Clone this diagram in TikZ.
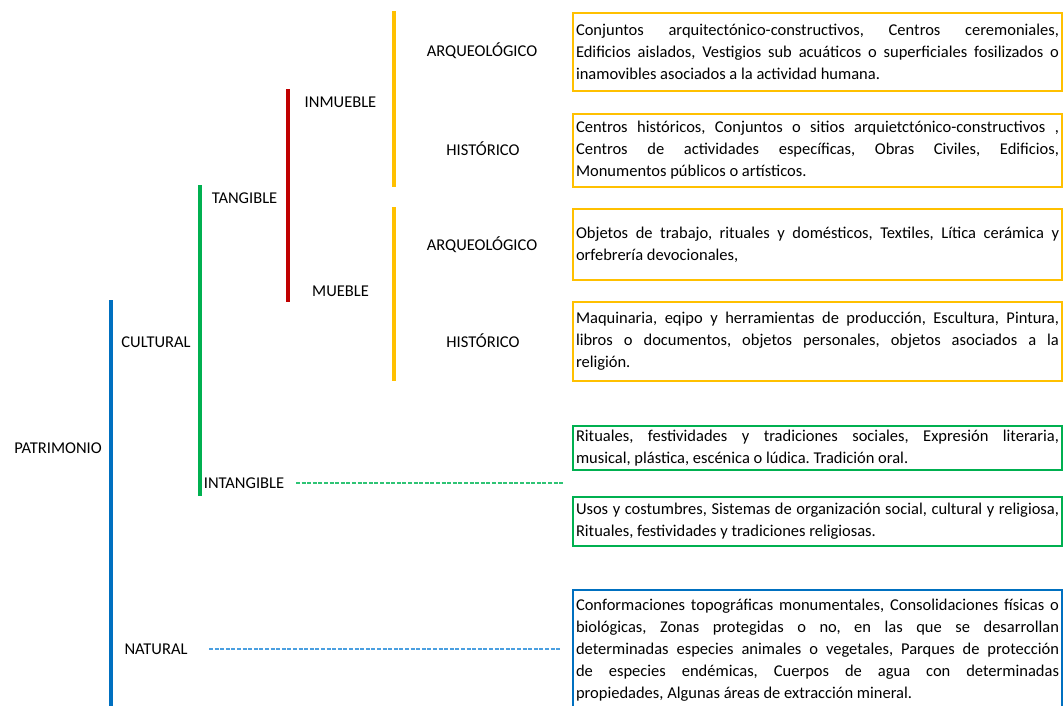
\documentclass[tikz,border=0pt]{standalone}
\usepackage{fontspec}
\setmainfont{Carlito}
\frenchspacing
\definecolor{cyel}{HTML}{FFC000}
\definecolor{cgrn}{HTML}{00B050}
\definecolor{cred}{HTML}{C00000}
\definecolor{cblu}{HTML}{0070C0}
\definecolor{cgrnd}{HTML}{2EC475}
\definecolor{cblud}{HTML}{4A9FE0}
\newlength\boxw \setlength\boxw{483pt}
\newcommand\jline[1]{\makebox[\boxw][s]{\spaceskip=0pt\relax\xspaceskip=0pt\relax #1}}
\begin{document}
\begin{tikzpicture}[x=1pt,y=-1pt,
  lbl/.style={inner sep=0pt, anchor=base, font=\fontsize{16.5}{22}\selectfont},
  desc/.style={draw, line width=2pt, anchor=north west, text width=\boxw,
    inner xsep=3pt, inner ysep=0pt, align=justify, font=\fontsize{16.5}{22}\selectfont},
  bar/.style={line width=4pt},
  dsh/.style={line width=1.3pt, dash pattern=on 4pt off 1.6pt}]
\useasboundingbox (0,0) rectangle (1063,705);
% labels
\node[lbl] (patr) at (58,453) {PATRIMONIO};
\node[lbl] (cult) at (156,347) {CULTURAL};
\node[lbl] (nat) at (156,654) {NATURAL};
\node[lbl] (tang) at (244.5,203) {TANGIBLE};
\node[lbl] (intang) at (244,488) {INTANGIBLE};
\node[lbl] (inm) at (340.5,107) {INMUEBLE};
\node[lbl] (mue) at (340.5,296) {MUEBLE};
\node[lbl] (arq1) at (482,56) {ARQUEOLÓGICO};
\node[lbl] (his1) at (483,155) {HISTÓRICO};
\node[lbl] (arq2) at (482,250) {ARQUEOLÓGICO};
\node[lbl] (his2) at (483,347) {HISTÓRICO};
% bars
\coordinate (b1t) at (111,300); \coordinate (b1b) at (111,712);
\coordinate (g1t) at (200,185); \coordinate (g1b) at (200,496);
\coordinate (r1t) at (288,89);  \coordinate (r1b) at (288,302);
\coordinate (y1t) at (394,11);  \coordinate (y1b) at (394,187);
\coordinate (y2t) at (394,207); \coordinate (y2b) at (394,381);
\draw[bar,cblu] (b1t) -- (b1b);
\draw[bar,cgrn] (g1t) -- (g1b);
\draw[bar,cred] (r1t) -- (r1b);
\draw[bar,cyel] (y1t) -- (y1b);
\draw[bar,cyel] (y2t) -- (y2b);
% boxes
\node[desc,cyel,minimum height=78pt] (d1) at (572,12) {\color{black}%
\jline{Conjuntos arquitectónico-constructivos, Centros ceremoniales,}\\
\jline{Edificios aislados, Vestigios sub acuáticos o superficiales fosilizados o}\\
inamovibles asociados a la actividad humana.};
\node[desc,cyel,minimum height=73pt] (d2) at (572,113) {\color{black}%
\jline{Centros históricos, Conjuntos o sitios arquietctónico-constructivos ,}\\
\jline{Centros de actividades específicas, Obras Civiles, Edificios,}\\
Monumentos públicos o artísticos.};
\node[desc,cyel,minimum height=71pt] (d3) at (572,208) {\color{black}%
\jline{Objetos de trabajo, rituales y domésticos, Textiles, Lítica cerámica y}\\
orfebrería devocionales,};
\node[desc,cyel,minimum height=79pt] (d4) at (572,301) {\color{black}%
\jline{Maquinaria, eqipo y herramientas de producción, Escultura, Pintura,}\\
\jline{libros o documentos, objetos personales, objetos asociados a la}\\
religión.};
\node[desc,cgrn,minimum height=44pt] (d5) at (572,425) {\color{black}%
\jline{Rituales, festividades y tradiciones sociales, Expresión literaria,}\\
musical, plástica, escénica o lúdica. Tradición oral.};
\node[desc,cgrn,minimum height=49pt] (d6) at (572,496) {\color{black}%
\jline{Usos y costumbres, Sistemas de organización social, cultural y religiosa,}\\
Rituales, festividades y tradiciones religiosas.};
\node[desc,cblu,minimum height=120pt] (d7) at (572,589) {\color{black}%
\jline{Conformaciones topográficas monumentales, Consolidaciones físicas o}\\
\jline{biológicas, Zonas protegidas o no, en las que se desarrollan}\\
\jline{determinadas especies animales o vegetales, Parques de protección}\\
\jline{de especies endémicas, Cuerpos de agua con determinadas}\\
propiedades, Algunas áreas de extracción mineral.};
% dashed connectors
\coordinate (gsta) at (296,483);
\coordinate (gend) at (564,483);
\coordinate (bsta) at (209,649);
\coordinate (bend) at (561,649);
\draw[dsh,cgrnd] (gsta) -- (gend);
\draw[dsh,cblud] (bsta) -- (bend);
\end{tikzpicture}
\end{document}
